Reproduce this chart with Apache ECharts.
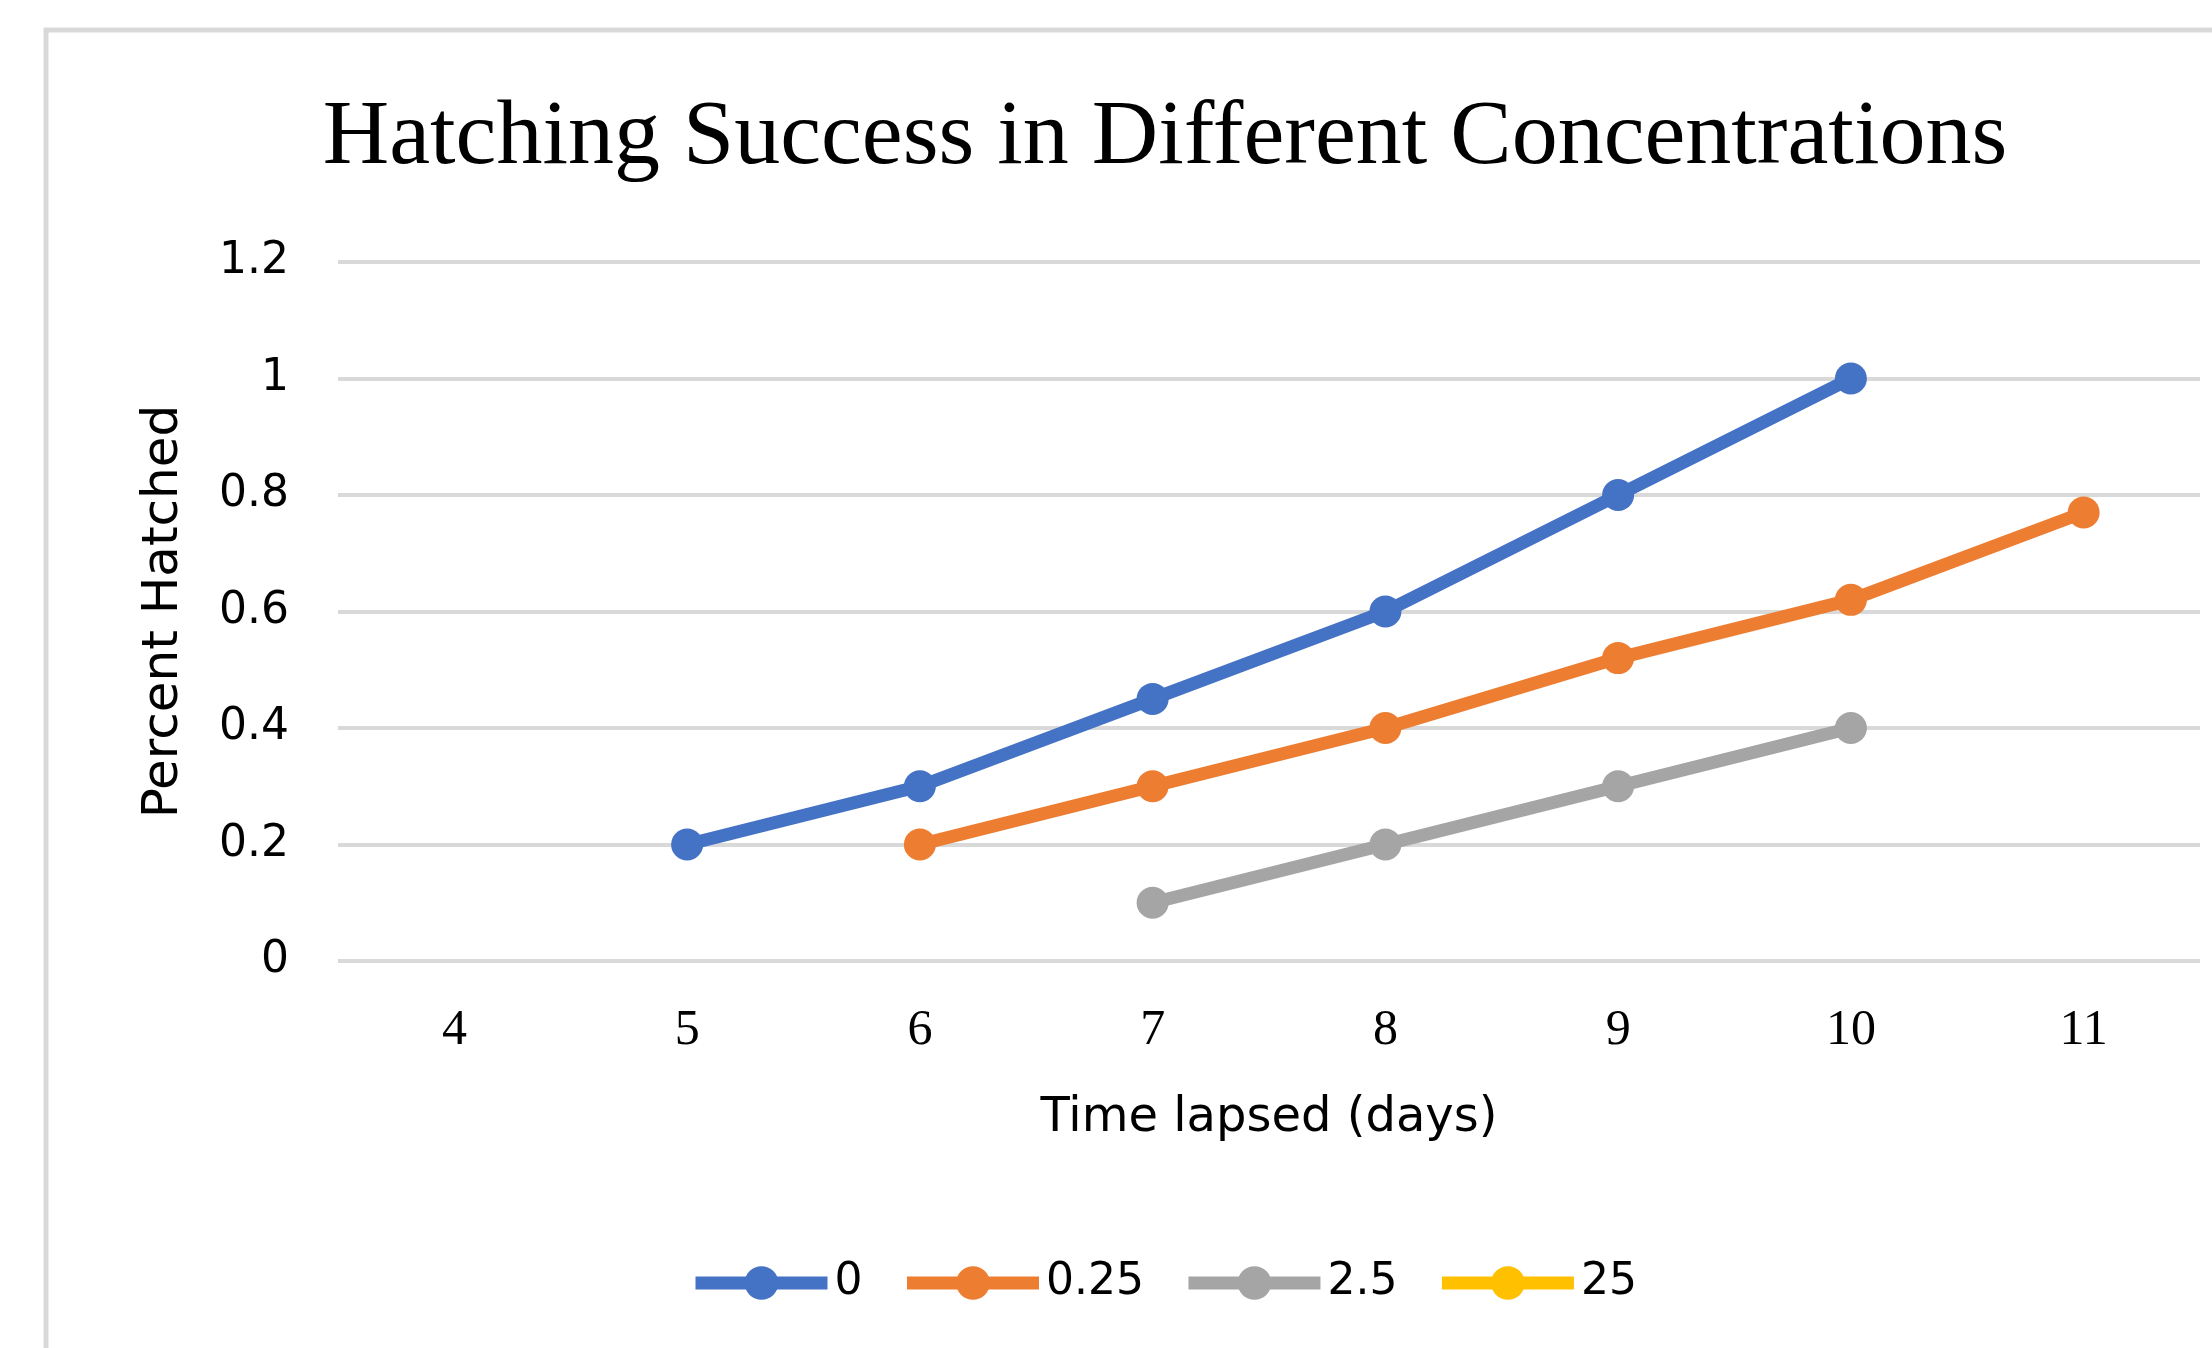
<!DOCTYPE html>
<html>
<head>
<meta charset="utf-8">
<script src="https://cdn.jsdelivr.net/npm/echarts@6/dist/echarts.min.js"></script>
<style>
html,body{margin:0;padding:0;background:#fff;}
#chart{width:2212px;height:1348px;}
</style>
</head>
<body>
<div id="chart"></div>
<script>
const days = ['4', '5', '6', '7', '8', '9', '10', '11'];
const seriesNames = ['0', '0.25', '2.5', '25'];
const conc0 = [null, 0.2, 0.3, 0.45, 0.6, 0.8, 1.0, null];
const conc025 = [null, null, 0.2, 0.3, 0.4, 0.52, 0.62, 0.77];
const conc25 = [null, null, null, 0.1, 0.2, 0.3, 0.4, null];
const conc250 = [null, null, null, null, null, null, null, null];
const colors = ['#4472C4', '#ED7D31', '#A5A5A5', '#FFC000'];
const yMin = 0, yMax = 1.2, yStep = 0.2;

const chart = echarts.init(document.getElementById('chart'));
const allData = [conc0, conc025, conc25, conc250];
const series = allData.map((d, i) => ({
  name: seriesNames[i],
  type: 'line',
  data: d,
  symbol: 'circle',
  symbolSize: 32,
  connectNulls: false,
  lineStyle: { width: 13, color: colors[i] },
  itemStyle: { color: colors[i] },
  emphasis: { disabled: true }
}));

chart.setOption({
  animation: false,
  color: colors,
  graphic: [{
    type: 'rect',
    shape: { x: 46, y: 30, width: 2300, height: 1500 },
    style: { fill: 'none', stroke: '#d9d9d9', lineWidth: 5 },
    silent: true,
    z: -1
  }],
  title: {
    text: 'Hatching Success in Different Concentrations',
    left: 1160,
    textAlign: 'center',
    top: 88,
    textStyle: { fontFamily: 'Liberation Serif', fontSize: 92, fontWeight: 'normal', color: '#000' }
  },
  legend: {
    left: 684,
    top: 1256,
    itemWidth: 132,
    itemHeight: 42,
    itemGap: 38,
    lineStyle: { width: 13 },
    textStyle: { fontFamily: 'DejaVu Sans', fontSize: 44, color: '#000', padding: [0, 0, 0, 2] },
    data: seriesNames
  },
  grid: { left: 338, right: 12, top: 262, bottom: 387, containLabel: false },
  xAxis: {
    type: 'category',
    data: days,
    boundaryGap: true,
    axisLine: { show: false },
    axisTick: { show: false },
    axisLabel: { fontFamily: 'Liberation Serif', fontSize: 50, color: '#000', margin: 45 },
    name: 'Time lapsed (days)',
    nameLocation: 'middle',
    nameGap: 134,
    nameTextStyle: { fontFamily: 'DejaVu Sans', fontSize: 48, color: '#000' }
  },
  yAxis: {
    type: 'value',
    min: yMin,
    max: yMax,
    interval: yStep,
    axisLine: { show: false },
    axisTick: { show: false },
    splitLine: { lineStyle: { color: '#d9d9d9', width: 4 } },
    axisLabel: { fontFamily: 'DejaVu Sans', fontSize: 44, color: '#000', margin: 49 },
    name: 'Percent Hatched',
    nameLocation: 'middle',
    nameGap: 149,
    nameTextStyle: { fontFamily: 'DejaVu Sans', fontSize: 50, color: '#000' }
  },
  series: series
});
</script>
</body>
</html>
